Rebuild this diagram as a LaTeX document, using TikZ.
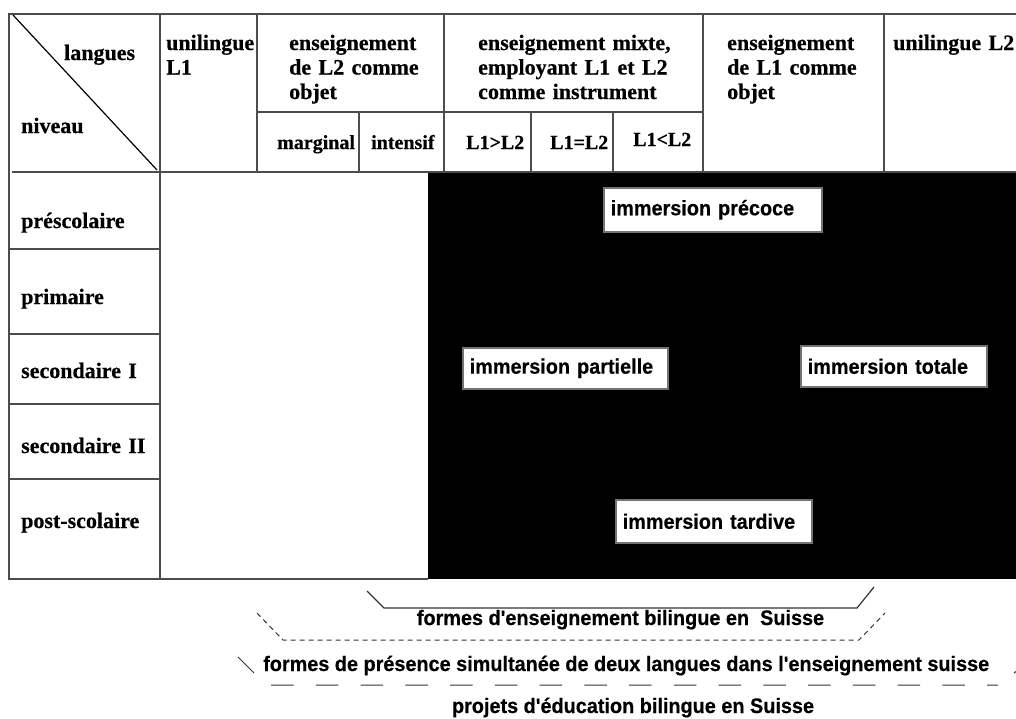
\documentclass[tikz,border=0pt]{standalone}
\usepackage{fontspec}
\setmainfont{Liberation Serif}[BoldFeatures={FakeBold=0.5}]
\newfontfamily\sansbold{Liberation Sans}[FakeStretch=0.945, BoldFeatures={FakeBold=0.4}]
\begin{document}
\begin{tikzpicture}[x=1pt,y=-1pt,
  grid/.style={draw=black!70, line width=1.1pt},
  hdr/.style={font=\bfseries\fontsize{22}{24.5}\selectfont, inner sep=0pt, anchor=base west, text width=240pt, align=left},
  sub/.style={font=\bfseries\fontsize{20}{22}\selectfont, inner sep=0pt, anchor=base west},
  imm/.style={draw=black!55, line width=1.5pt, fill=white, anchor=north west, inner xsep=7pt, inner ysep=0pt, font=\sansbold\bfseries\fontsize{21}{24}\selectfont, align=left},
  captiontext/.style={font=\sansbold\bfseries\fontsize{21}{24}\selectfont, inner sep=0pt, anchor=base},
  bracket/.style={draw=black!80, line width=1.2pt}
]
\useasboundingbox (0,0) rectangle (1016,718);
\fill[white] (0,0) rectangle (1016,718);

% black region
\fill[black] (428,172) rectangle (1016,579);

% table lines
\draw[grid] (1016,14) -- (9,14) -- (9,579) -- (428,579);
\draw[grid] (12,172) -- (1016,172);
\draw[grid] (160,14) -- (160,579);
\draw[grid] (257,14) -- (257,172);
\draw[grid] (444,14) -- (444,172);
\draw[grid] (703,14) -- (703,172);
\draw[grid] (884,14) -- (884,172);
\draw[grid] (257,112) -- (703,112);
\draw[grid] (359,112) -- (359,172);
\draw[grid] (531,112) -- (531,172);
\draw[grid] (613,112) -- (613,172);
\foreach \yy in {249,334,404,479} \draw[grid] (9,\yy) -- (160,\yy);
\draw[black, line width=1.2pt] (13,15) -- (157,170);

% header texts
\node[hdr] (langues) at (64,60) {langues};
\node[hdr] (niveau) at (21,133) {niveau};
\node[hdr] (uniL1) at (166,50) {unilingue\\L1};
\node[hdr] (ensL2) at (289,50) {enseignement\\de L2 comme\\objet};
\node[hdr] (mixte) at (478,50) {enseignement mixte,\\employant L1 et L2\\comme instrument};
\node[hdr] (ensL1) at (727,50) {enseignement\\de L1 comme\\objet};
\node[hdr] (uniL2) at (893,50) {unilingue L2};

\node[sub] (marg) at (277,149) {marginal};
\node[sub] (inte) at (371,149) {intensif};
\node[sub] (gt) at (466,149) {L1>L2};
\node[sub] (eq) at (550,149) {L1=L2};
\node[sub] (lt) at (633,146) {L1<L2};

% row labels
\node[hdr] (presc) at (21,228) {préscolaire};
\node[hdr] (prim) at (21,304) {primaire};
\node[hdr] (secI) at (21,378) {secondaire I};
\node[hdr] (secII) at (21,453) {secondaire II};
\node[hdr] (post) at (21,528) {post-scolaire};

% immersion boxes
\node[imm, minimum width=218pt, minimum height=44pt, text width=204pt] (prec) at (603,187) {immersion précoce};
\node[imm, minimum width=205pt, minimum height=41pt, text width=191pt] (part) at (462,347) {immersion partielle};
\node[imm, minimum width=186pt, minimum height=41pt, text width=172pt] (tot) at (800,345) {immersion totale};
\node[imm, minimum width=196pt, minimum height=43pt, text width=182pt] (tard) at (615,499) {immersion tardive};

% bottom brackets and captions
\draw[bracket] (367,591) -- (384,608) -- (857,608) -- (874,587);
\node[captiontext] (t1) at (620.5,625) {formes d'enseignement bilingue en~ Suisse};
\draw[bracket, line width=1pt, dash pattern=on 5pt off 4pt] (257,613) -- (283,640) -- (859,640) -- (885,613);
\node[captiontext, anchor=base west] (t2) at (263,671) {formes de présence simultanée de deux langues dans l'enseignement suisse};
\draw[bracket, line width=1pt, dash pattern=on 22.5pt off 22.25pt] (238,657) -- (266,685) -- (998,685);
\draw[bracket, line width=1pt, dash pattern=on 0pt off 20pt on 8pt off 100pt] (998,685) -- (1030,661);
\node[captiontext] (t3) at (633,713) {projets d'éducation bilingue en Suisse};
\end{tikzpicture}
\end{document}
